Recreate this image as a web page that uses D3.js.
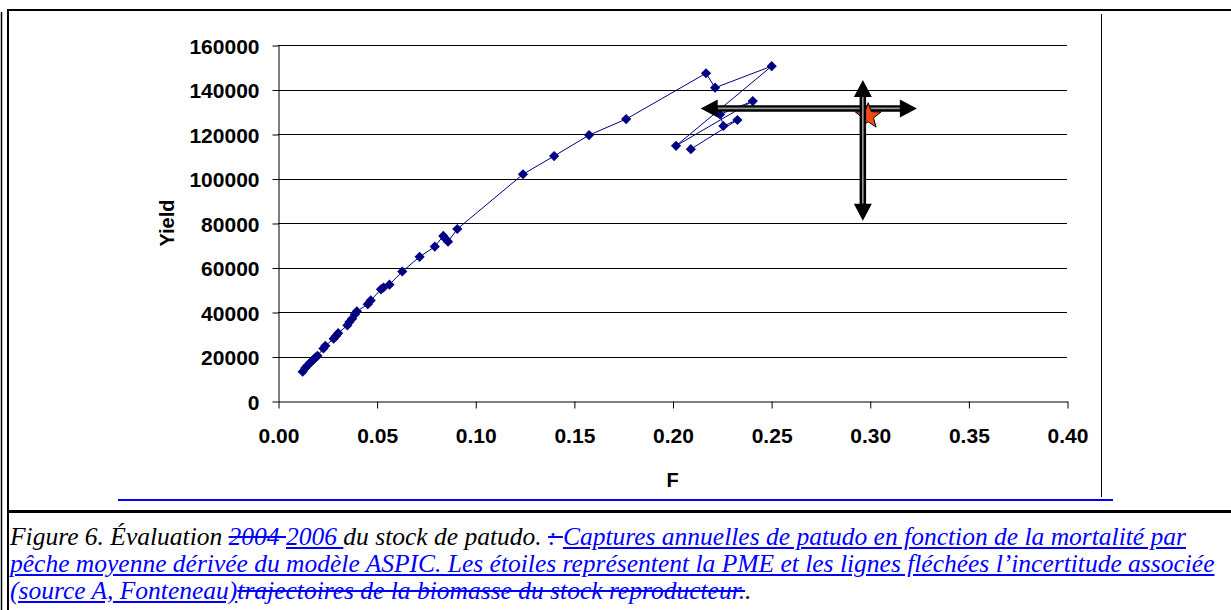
<!DOCTYPE html>
<html>
<head>
<meta charset="utf-8">
<script src="https://cdn.jsdelivr.net/npm/d3@7"></script>
<style>
  body { margin: 0; background: #fff; }
  #wrap { position: relative; width: 1231px; height: 610px; overflow: hidden; }
  #caption { position: absolute; left: 10px; top: 523px; width: 1198px; font-family: "Liberation Serif", "Times New Roman", serif;
    font-style: italic; font-size: 25.5px; line-height: 27px; white-space: nowrap; color: #000; }
  #caption .just { text-align: justify; text-align-last: justify; }
  .ins { color: #0000ff; text-decoration: underline; }
  .del { color: #0000ff; text-decoration: line-through; }
</style>
</head>
<body>
<div id="wrap"></div>
<script>
  // F (fishing mortality) and yield, in the order they are joined
  const fValues = [0.0125, 0.0138, 0.0150, 0.0163, 0.0176, 0.0190, 0.0200, 0.0230, 0.0240, 0.0282,
    0.0295, 0.0305, 0.0352, 0.0362, 0.0376, 0.0390, 0.0400, 0.0455, 0.0470, 0.0522,
    0.0535, 0.0565, 0.0630, 0.0718, 0.0795, 0.0838, 0.0848, 0.0862, 0.0909, 0.1242,
    0.1400, 0.1577, 0.1765, 0.2170, 0.2216, 0.2503, 0.2018, 0.2407, 0.2241, 0.2258,
    0.2329, 0.2093];
  const yieldValues = [13200, 14800, 16000, 17200, 18300, 19500, 20300, 23600, 24800, 28000,
    29300, 30500, 34000, 35500, 37000, 39000, 40300, 43500, 45200, 50200,
    51000, 52300, 58200, 64800, 69400, 74200, 73000, 71600, 77300, 101900,
    110100, 119500, 126700, 147300, 140800, 150500, 114700, 134800, 128800, 123600,
    126300, 113200];

  const xTicks = [0, 0.05, 0.10, 0.15, 0.20, 0.25, 0.30, 0.35, 0.40];
  const yTicks = [0, 20000, 40000, 60000, 80000, 100000, 120000, 140000, 160000];

  // MSY estimate and its uncertainty range
  const msy = { f: 0.2992, y: 128000 };
  const fRange = [0.2143, 0.3239];
  const fRangeYield = 131500;
  const yieldRange = [81000, 144300];
  const yieldRangeF = 0.2965;

  const W = 1231, H = 610;
  const plot = { left: 278, right: 1067, top: 45, bottom: 401 };
  const font = '"Liberation Sans", Arial, sans-serif';

  const svg = d3.select('#wrap').append('svg')
    .attr('width', W).attr('height', H)
    .style('position', 'absolute').style('left', 0).style('top', 0);

  svg.append('rect').attr('width', W).attr('height', H).attr('fill', '#fff');

  // frame lines of the document table
  const frame = svg.append('g').attr('class', 'frame').attr('fill', 'none');
  frame.append('line').attr('x1', 1.5).attr('x2', 1.5).attr('y1', 12).attr('y2', H).attr('stroke', '#000').attr('stroke-width', 1.5);
  frame.append('line').attr('x1', 8).attr('x2', 8).attr('y1', 9).attr('y2', H).attr('stroke', '#000').attr('stroke-width', 2);
  frame.append('line').attr('x1', 7).attr('x2', W).attr('y1', 10).attr('y2', 10).attr('stroke', '#000').attr('stroke-width', 2);
  frame.append('line').attr('x1', 7).attr('x2', W).attr('y1', 511.5).attr('y2', 511.5).attr('stroke', '#000').attr('stroke-width', 3);
  frame.append('line').attr('x1', 1101.5).attr('x2', 1101.5).attr('y1', 14).attr('y2', 497).attr('stroke', '#000').attr('stroke-width', 1);
  frame.append('line').attr('x1', 118).attr('x2', 1113).attr('y1', 500).attr('y2', 500).attr('stroke', '#0000ff').attr('stroke-width', 2);

  const x = d3.scaleLinear().domain([0, 0.4]).range([plot.left, plot.right]);
  const y = d3.scaleLinear().domain([0, 160000]).range([plot.bottom, plot.top]);

  // gridlines
  svg.append('g').attr('class', 'grid')
    .selectAll('line').data(yTicks.filter(d => d > 0)).enter().append('line')
    .attr('x1', plot.left).attr('x2', plot.right)
    .attr('y1', d => Math.round(y(d)) + 0.5).attr('y2', d => Math.round(y(d)) + 0.5)
    .attr('stroke', '#000').attr('stroke-width', 1);

  const yAxis = svg.append('g').attr('transform', `translate(${plot.left + 0.5},0.5)`)
    .call(d3.axisLeft(y).tickValues(yTicks).tickSize(6).tickSizeOuter(0).tickPadding(13).tickFormat(d => d));
  const xAxis = svg.append('g').attr('transform', `translate(0.5,${plot.bottom + 0.5})`)
    .call(d3.axisBottom(x).tickValues(xTicks).tickSize(7).tickSizeOuter(0).tickPadding(20).tickFormat(d3.format('.2f')));

  [yAxis, xAxis].forEach(function (ax) {
    ax.select('.domain').attr('stroke', '#000');
    ax.selectAll('.tick line').attr('stroke', '#000');
    ax.selectAll('text').attr('fill', '#000')
      .style('font-family', font).style('font-size', '21px').style('font-weight', 'bold');
  });
  yAxis.selectAll('text').attr('dy', '0.36em');

  svg.append('text').text('Yield')
    .attr('transform', `translate(174,${(plot.top + plot.bottom) / 2}) rotate(-90)`)
    .attr('text-anchor', 'middle')
    .style('font-family', font).style('font-size', '20px').style('font-weight', 'bold');
  svg.append('text').text('F')
    .attr('x', (plot.left + plot.right) / 2).attr('y', 487)
    .attr('text-anchor', 'middle')
    .style('font-family', font).style('font-size', '20px').style('font-weight', 'bold');

  const data = fValues.map((f, i) => ({ f: f, y: yieldValues[i] }));

  svg.append('path').datum(data)
    .attr('fill', 'none').attr('stroke', '#000080').attr('stroke-width', 1)
    .attr('d', d3.line().x(d => x(d.f)).y(d => y(d.y)));

  svg.append('g').attr('class', 'points')
    .selectAll('path').data(data).enter().append('path')
    .attr('d', d3.symbol(d3.symbolSquare, 52))
    .attr('transform', d => `translate(${x(d.f)},${y(d.y)}) rotate(45)`)
    .attr('fill', '#000080');

  // double-headed arrows
  const headLen = 17, headHalf = 9;
  const drawArrow = function (x1, y1, x2, y2) {
    const g = svg.append('g').attr('class', 'arrow');
    const len = Math.hypot(x2 - x1, y2 - y1);
    const ux = (x2 - x1) / len, uy = (y2 - y1) / len;
    const px = -uy, py = ux;
    const sx1 = x1 + ux * headLen, sy1 = y1 + uy * headLen;
    const sx2 = x2 - ux * headLen, sy2 = y2 - uy * headLen;
    g.append('line').attr('x1', sx1 - ux).attr('y1', sy1 - uy).attr('x2', sx2 + ux).attr('y2', sy2 + uy)
      .attr('stroke', '#000').attr('stroke-width', 6.5);
    g.append('line').attr('x1', sx1).attr('y1', sy1).attr('x2', sx2).attr('y2', sy2)
      .attr('stroke', '#9a9a9a').attr('stroke-width', 1.6);
    const head = (tx, ty, dx, dy) => [[tx, ty],
      [tx + dx * headLen + px * headHalf, ty + dy * headLen + py * headHalf],
      [tx + dx * headLen - px * headHalf, ty + dy * headLen - py * headHalf]];
    [head(x1, y1, ux, uy), head(x2, y2, -ux, -uy)].forEach(function (pts) {
      g.append('path').attr('d', 'M' + pts.join('L') + 'Z').attr('fill', '#000');
    });
  };
  drawArrow(x(fRange[0]), y(fRangeYield), x(fRange[1]), y(fRangeYield));

  // star
  const star = d3.range(10).map(function (i) {
    const r = i % 2 === 0 ? 13.5 : 5.6;
    const a = -Math.PI / 2 + i * Math.PI / 5;
    return [r * Math.cos(a), r * Math.sin(a)];
  });
  svg.append('path')
    .attr('d', 'M' + star.join('L') + 'Z')
    .attr('transform', `translate(${x(msy.f)},${y(msy.y)})`)
    .attr('fill', '#f24a17').attr('stroke', '#000').attr('stroke-width', 1);

  drawArrow(x(yieldRangeF), y(yieldRange[1]), x(yieldRangeF), y(yieldRange[0]));

  // caption
  const captionLines = [
    [['', 'Figure 6. Évaluation '], ['del', '2004 '], ['ins', '2006 '], ['', 'du stock de patudo. '], ['del', ': '],
      ['ins', 'Captures annuelles de patudo en fonction de la mortalité par']],
    [['ins', 'pêche moyenne dérivée du modèle ASPIC. Les étoiles représentent la PME et les lignes fléchées l’incertitude associée']],
    [['ins', '(source A, Fonteneau)'], ['del', 'trajectoires de la biomasse du stock reproducteur.'], ['', '.']]
  ];
  const caption = d3.select('#wrap').append('div').attr('id', 'caption');
  captionLines.forEach(function (parts, i) {
    const line = caption.append('div').attr('class', i === 1 ? 'just' : null);
    parts.forEach(function (p) {
      line.append('span').attr('class', p[0] || null).text(p[1]);
    });
  });
</script>
</body>
</html>
